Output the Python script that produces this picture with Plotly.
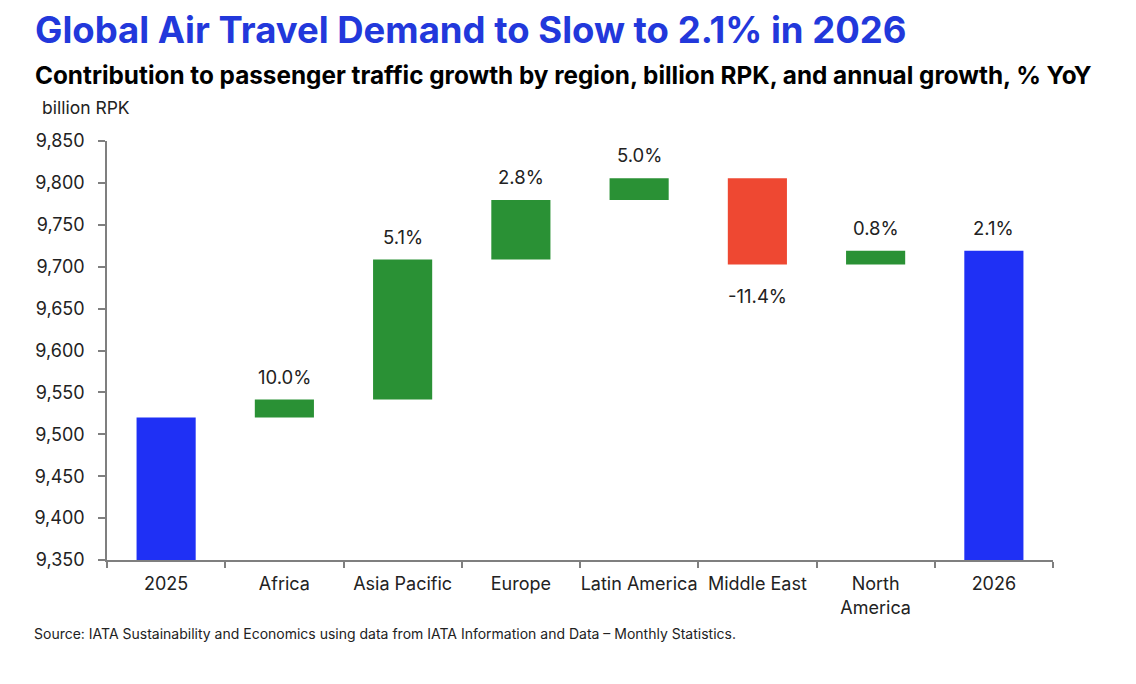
import plotly.graph_objects as go

# Waterfall data, billion RPK
categories = ["2025", "Africa", "Asia Pacific", "Europe", "Latin America",
              "Middle East", "North<br>America", "2026"]
measures = ["absolute", "relative", "relative", "relative", "relative",
            "relative", "relative", "total"]
values = [9520, 21.5, 167, 71, 26, -103, 16.5, 0]
growth_labels = ["", "10.0%", "5.1%", "2.8%", "5.0%", "-11.4%", "0.8%", "2.1%"]

BLUE = "#1F30F5"
GREEN = "#2A9135"
RED = "#EE4832"
FONT = "Inter"

fig = go.Figure()
fig.add_trace(go.Waterfall(
    x=categories, y=values, measure=measures,
    increasing=dict(marker=dict(color=GREEN)),
    decreasing=dict(marker=dict(color=RED)),
    totals=dict(marker=dict(color=BLUE)),
    connector=dict(visible=False),
    width=0.5, showlegend=False,
))

# growth labels: above rising bars, below falling ones
# (x given as category index, since "2025"/"2026" would be read as numbers)
annos = []
running = 0
for i, (m, v, lab) in enumerate(zip(measures, values, growth_labels)):
    if m == "absolute":
        running = v
    elif m == "relative":
        running += v
    if lab:
        if m == "relative" and v < 0:
            annos.append(dict(x=i, y=running, text=lab, yanchor="top", yshift=-18,
                              showarrow=False, font=dict(family=FONT, size=18.5, color="#222222")))
        else:
            annos.append(dict(x=i, y=running, text=lab, yanchor="bottom", yshift=10,
                              showarrow=False, font=dict(family=FONT, size=18.5, color="#222222")))

annos += [
    dict(text="<b>Global Air Travel Demand to Slow to 2.1% in 2026</b>",
         xref="paper", yref="paper", x=-0.078, y=1.266, xanchor="left", yanchor="middle",
         showarrow=False, font=dict(family=FONT, size=36.5, color="#2238DB")),
    dict(text="<b>Contribution to passenger traffic growth by region, billion RPK, and annual growth, % YoY</b>",
         xref="paper", yref="paper", x=-0.078, y=1.1575, xanchor="left", yanchor="middle",
         showarrow=False, font=dict(family=FONT, size=24.3, color="#000000")),
    dict(text="billion RPK", xref="paper", yref="paper", x=-0.071, y=1.081,
         xanchor="left", yanchor="middle", showarrow=False,
         font=dict(family=FONT, size=17.5, color="#222222")),
    dict(text="Source: IATA Sustainability and Economics using data from IATA Information and Data \u2013 Monthly Statistics.",
         xref="paper", yref="paper", x=-0.079, y=-0.1766, xanchor="left", yanchor="middle",
         showarrow=False, font=dict(family=FONT, size=14, color="#222222")),
]

fig.update_layout(
    width=1136, height=684,
    margin=dict(l=99, r=91, t=133, b=132),
    plot_bgcolor="white", paper_bgcolor="white",
    font=dict(family=FONT, size=18, color="#222222"),
    annotations=annos,
)

fig.update_yaxes(
    range=[9350, 9850], dtick=50, tickformat=",", showgrid=False, zeroline=False,
    showline=True, linecolor="#7F7F7F", linewidth=1.5,
    ticks="outside", ticklen=7, tickcolor="#7F7F7F", tickwidth=1.5,
    ticklabelstandoff=10,
    tickfont=dict(family=FONT, size=18, color="#222222"),
)
fig.update_xaxes(
    type="category", range=[-0.5, len(categories) - 0.5],
    showgrid=False, showline=True, linecolor="#7F7F7F", linewidth=1.5,
    ticks="outside", tickson="boundaries", ticklen=6, tickcolor="#7F7F7F", tickwidth=1.5,
    tickangle=0, ticklabelstandoff=7,
    tickfont=dict(family=FONT, size=18, color="#222222"),
)

fig.write_html("out.html")
